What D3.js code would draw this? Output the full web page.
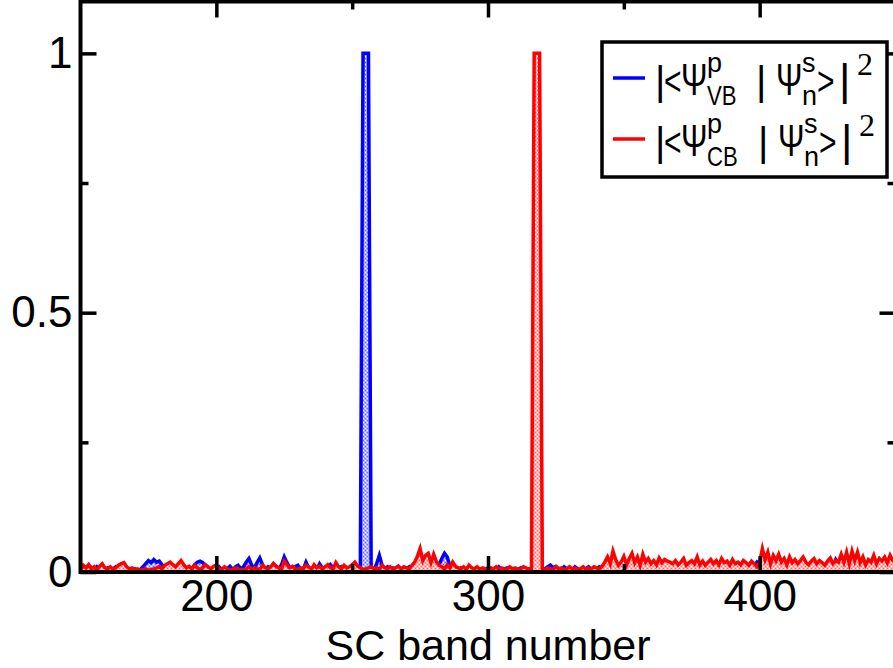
<!DOCTYPE html>
<html>
<head>
<meta charset="utf-8">
<script src="https://cdn.jsdelivr.net/npm/d3@7"></script>
<style>
  html, body { margin: 0; padding: 0; background: #fff; }
  svg { display: block; overflow: hidden; }
  text { font-family: "Liberation Sans", Arial, sans-serif; fill: #000; }
</style>
</head>
<body>
<div id="chart"></div>
<script>
// band numbers run from 150 to 450, one value per band
const bandStart = 150;

const vbOverlap = [
  .006,.010,.005,.013,.008,.003,.010,.006,.011,.005,
  .008,.003,.006,.010,.005,.008,.013,.006,.003,.005,
  .006,.003,.005,.010,.016,.022,.018,.024,.019,.021,
  .014,.006,.005,.008,.003,.006,.005,.010,.006,.005,
  .008,.006,.014,.019,.021,.018,.010,.006,.005,.008,
  .006,.010,.005,.008,.006,.011,.005,.010,.013,.006,
  .010,.019,.026,.013,.008,.018,.027,.014,.006,.010,
  .008,.016,.011,.006,.014,.029,.018,.008,.006,.010,
  .013,.006,.005,.019,.008,.006,.011,.005,.016,.008,
  .006,.005,.014,.008,.005,.006,.010,.005,.008,.006,
  .005,.006,.003,.010,1.000,1.000,1.000,.006,.005,.016,
  .032,.013,.006,.010,.005,.008,.006,.011,.005,.008,
  .006,.010,.005,.008,.016,.010,.006,.013,.018,.008,
  .010,.006,.014,.026,.036,.029,.011,.006,.010,.005,
  .008,.006,.005,.010,.006,.005,.008,.003,.006,.005,
  .008,.005,.006,.003,.010,.005,.006,.008,.005,.003,
  .006,.005,.008,.003,.005,.006,.005,.006,.005,.008,
  .003,.006,.010,.013,.008,.011,.006,.005,.010,.006,
  .008,.005,.010,.006,.005,.008,.006,.010,.005,.008,
  .006,.010,.008,.005,.011,.006,.008,.005,.010,.006,
  .008,.006,.005,.010,.006,.008,.005,.006,.010,.008,
  .006,.005,.008,.010,.006,.013,.008,.006,.005,.010,
  .008,.006,.010,.005,.008,.006,.011,.008,.010,.006,
  .005,.008,.006,.010,.016,.008,.006,.005,.008,.006,
  .010,.006,.008,.005,.006,.010,.008,.006,.011,.019,
  .013,.008,.006,.010,.005,.008,.011,.019,.010,.006,
  .008,.006,.010,.005,.008,.006,.010,.008,.006,.010,
  .008,.005,.006,.010,.008,.006,.011,.010,.024,.016,
  .013,.022,.010,.008,.006,.019,.026,.011,.008,.014,
  .021,.010,.006,.016,.024,.013,.008,.019,.011,.010,
  .008
];

const cbOverlap = [
  .005,.013,.008,.014,.006,.010,.003,.011,.016,.008,
  .006,.010,.005,.008,.013,.016,.018,.010,.006,.008,
  .005,.006,.003,.005,.006,.003,.005,.006,.008,.010,
  .006,.013,.016,.019,.014,.010,.016,.022,.014,.008,
  .011,.006,.013,.008,.005,.008,.014,.010,.006,.011,
  .014,.006,.005,.010,.006,.003,.005,.008,.006,.003,
  .005,.006,.010,.005,.008,.006,.005,.013,.008,.006,
  .010,.016,.011,.008,.006,.021,.014,.008,.011,.006,
  .005,.008,.006,.013,.010,.005,.014,.008,.011,.006,
  .010,.014,.008,.006,.018,.010,.006,.013,.008,.010,
  .014,.019,.011,.008,.005,.006,.008,.010,.006,.008,
  .005,.013,.008,.006,.010,.005,.008,.011,.006,.010,
  .008,.006,.013,.019,.030,.045,.022,.032,.036,.018,
  .034,.020,.013,.010,.006,.014,.008,.019,.011,.008,
  .006,.010,.005,.013,.008,.006,.010,.005,.008,.006,
  .005,.008,.006,.010,.005,.008,.006,.005,.010,.006,
  .008,.005,.006,.010,.008,.005,.006,1.000,1.000,1.000,
  .006,.005,.008,.006,.005,.010,.006,.008,.005,.006,
  .010,.006,.008,.005,.006,.010,.005,.008,.006,.010,
  .008,.006,.011,.019,.029,.016,.040,.024,.013,.019,
  .030,.014,.026,.036,.018,.029,.013,.034,.019,.026,
  .016,.022,.014,.027,.018,.024,.021,.019,.016,.022,
  .014,.019,.026,.013,.018,.022,.016,.029,.014,.021,
  .013,.019,.024,.016,.022,.014,.026,.018,.021,.013,
  .024,.016,.019,.014,.022,.018,.013,.021,.016,.010,
  .019,.045,.024,.038,.016,.032,.022,.034,.019,.026,
  .014,.029,.018,.024,.016,.022,.029,.019,.014,.021,
  .026,.016,.022,.018,.013,.021,.027,.016,.022,.019,
  .034,.019,.038,.016,.040,.022,.038,.018,.029,.014,
  .024,.019,.032,.016,.026,.021,.029,.018,.032,.022,
  .019
];

const xMajorTicks = [200, 300, 400];
const xMinorTicks = [250, 350, 450];
const yMajorTicks = [0, 0.5, 1];
const yMinorTicks = [0.25, 0.75];
const yTickLabels = ["0", "0.5", "1"];

const seriesList = [
  { key: "VB", values: vbOverlap, color: "#0000ff" },
  { key: "CB", values: cbOverlap, color: "#ff0000" }
];

const outerWidth = 893;
const outerHeight = 668;
const margin = { top: 1.5, left: 80.5 };
const width = 815;
const height = 570.5;

const svg = d3.select("#chart").append("svg")
  .attr("width", outerWidth)
  .attr("height", outerHeight);

const defs = svg.append("defs");
seriesList.forEach(s => {
  const p = defs.append("pattern")
    .attr("id", "fill" + s.key)
    .attr("width", 4).attr("height", 4)
    .attr("patternUnits", "userSpaceOnUse");
  p.append("rect").attr("width", 4).attr("height", 4).attr("fill", "#fff");
  p.append("rect").attr("width", 2).attr("height", 2).attr("fill", s.color).attr("opacity", 0.6);
  p.append("rect").attr("x", 2).attr("y", 2).attr("width", 2).attr("height", 2).attr("fill", s.color).attr("opacity", 0.6);
});
defs.append("clipPath").attr("id", "plotClip")
  .append("rect").attr("width", width).attr("height", height);

const g = svg.append("g")
  .attr("transform", `translate(${margin.left},${margin.top})`);

const x = d3.scaleLinear().domain([150, 450]).range([0, width]);
const y = d3.scaleLinear().domain([0, 1.1]).range([height, 0]);

const area = d3.area()
  .x((d, i) => x(bandStart + i))
  .y0(y(0))
  .y1(d => y(d));
const line = d3.line()
  .x((d, i) => x(bandStart + i))
  .y(d => y(d));

const plot = g.append("g").attr("clip-path", "url(#plotClip)");
seriesList.forEach(s => {
  plot.append("path")
    .datum(s.values)
    .attr("d", area)
    .attr("fill", `url(#fill${s.key})`);
  plot.append("path")
    .datum(s.values)
    .attr("d", line)
    .attr("fill", "none")
    .attr("stroke", s.color)
    .attr("stroke-width", 3.5)
    .attr("stroke-linejoin", "miter")
    .attr("stroke-miterlimit", 10);
});

// axes: ticks point inward on all four sides
function styleAxis(sel) {
  sel.select(".domain").remove();
  sel.selectAll(".tick line").attr("stroke", "#000").attr("stroke-width", 3.5);
  sel.selectAll(".tick text").style("font-size", "44px").attr("fill", "#000");
}

g.append("g").attr("transform", `translate(0,${height})`)
  .call(d3.axisBottom(x).tickValues(xMajorTicks).tickSizeInner(-16).tickSizeOuter(0)
    .tickPadding(8).tickFormat(d3.format("d")))
  .call(styleAxis);
g.append("g").attr("transform", `translate(0,${height})`)
  .call(d3.axisBottom(x).tickValues(xMinorTicks).tickSizeInner(-8).tickSizeOuter(0).tickFormat(""))
  .call(styleAxis);
g.append("g")
  .call(d3.axisTop(x).tickValues(xMajorTicks).tickSizeInner(-16).tickSizeOuter(0).tickFormat(""))
  .call(styleAxis);
g.append("g")
  .call(d3.axisTop(x).tickValues(xMinorTicks).tickSizeInner(-8).tickSizeOuter(0).tickFormat(""))
  .call(styleAxis);

g.append("g")
  .call(d3.axisLeft(y).tickValues(yMajorTicks).tickSizeInner(-16).tickSizeOuter(0)
    .tickPadding(8).tickFormat((d, i) => yTickLabels[i]))
  .call(styleAxis);
g.append("g")
  .call(d3.axisLeft(y).tickValues(yMinorTicks).tickSizeInner(-8).tickSizeOuter(0).tickFormat(""))
  .call(styleAxis);
g.append("g").attr("transform", `translate(${width},0)`)
  .call(d3.axisRight(y).tickValues(yMajorTicks).tickSizeInner(-16).tickSizeOuter(0).tickFormat(""))
  .call(styleAxis);
g.append("g").attr("transform", `translate(${width},0)`)
  .call(d3.axisRight(y).tickValues(yMinorTicks).tickSizeInner(-8).tickSizeOuter(0).tickFormat(""))
  .call(styleAxis);

g.append("rect")
  .attr("width", width).attr("height", height)
  .attr("fill", "none").attr("stroke", "#000").attr("stroke-width", 4);

g.append("text")
  .attr("x", width / 2)
  .attr("y", 658.5)
  .attr("text-anchor", "middle")
  .style("font-size", "43px")
  .text("SC band number");

// legend
const legend = svg.append("g").attr("transform", "translate(602,42)");
legend.append("rect")
  .attr("width", 285).attr("height", 135)
  .attr("fill", "#fff").attr("stroke", "#000").attr("stroke-width", 3.5);

// one legend glyph group; sx squeezes it horizontally like the narrow original font
function piece(parent, px, py, str, size, sx, serif) {
  const t = parent.append("text")
    .attr("transform", `translate(${px},${py}) scale(${sx || 1},1)`)
    .style("font-size", size + "px")
    .text(str);
  if (serif) t.style("font-family", "'Liberation Serif', 'Times New Roman', serif");
  return t;
}

seriesList.forEach((s, i) => {
  const row = legend.append("g").attr("transform", `translate(0,${36 + i * 61})`);
  row.append("line")
    .attr("x1", 11).attr("x2", 43)
    .attr("stroke", s.color).attr("stroke-width", 3.5);
  const dx = i * 2;
  piece(row, 53, 17, "|", 40);
  piece(row, 62, 17, "<", 40, 0.75);
  piece(row, 79, 17, "\u03A8", 44, 0.72);
  piece(row, 105, -6, "p", 27);
  piece(row, 105, 27, s.key, 27, 0.82);
  piece(row, 154 + dx, 17, "|", 40);
  piece(row, 174 + dx, 17, "\u03A8", 44, 0.72);
  piece(row, 200 + dx, -6, "s", 27);
  piece(row, 200 + dx, 27, "n", 27);
  piece(row, 215 + dx, 17, ">", 40, 0.75);
  piece(row, 237 + dx, 17, "|", 44);
  piece(row, 255 + dx, -3, "2", 32, 1, true);
});
</script>
</body>
</html>
